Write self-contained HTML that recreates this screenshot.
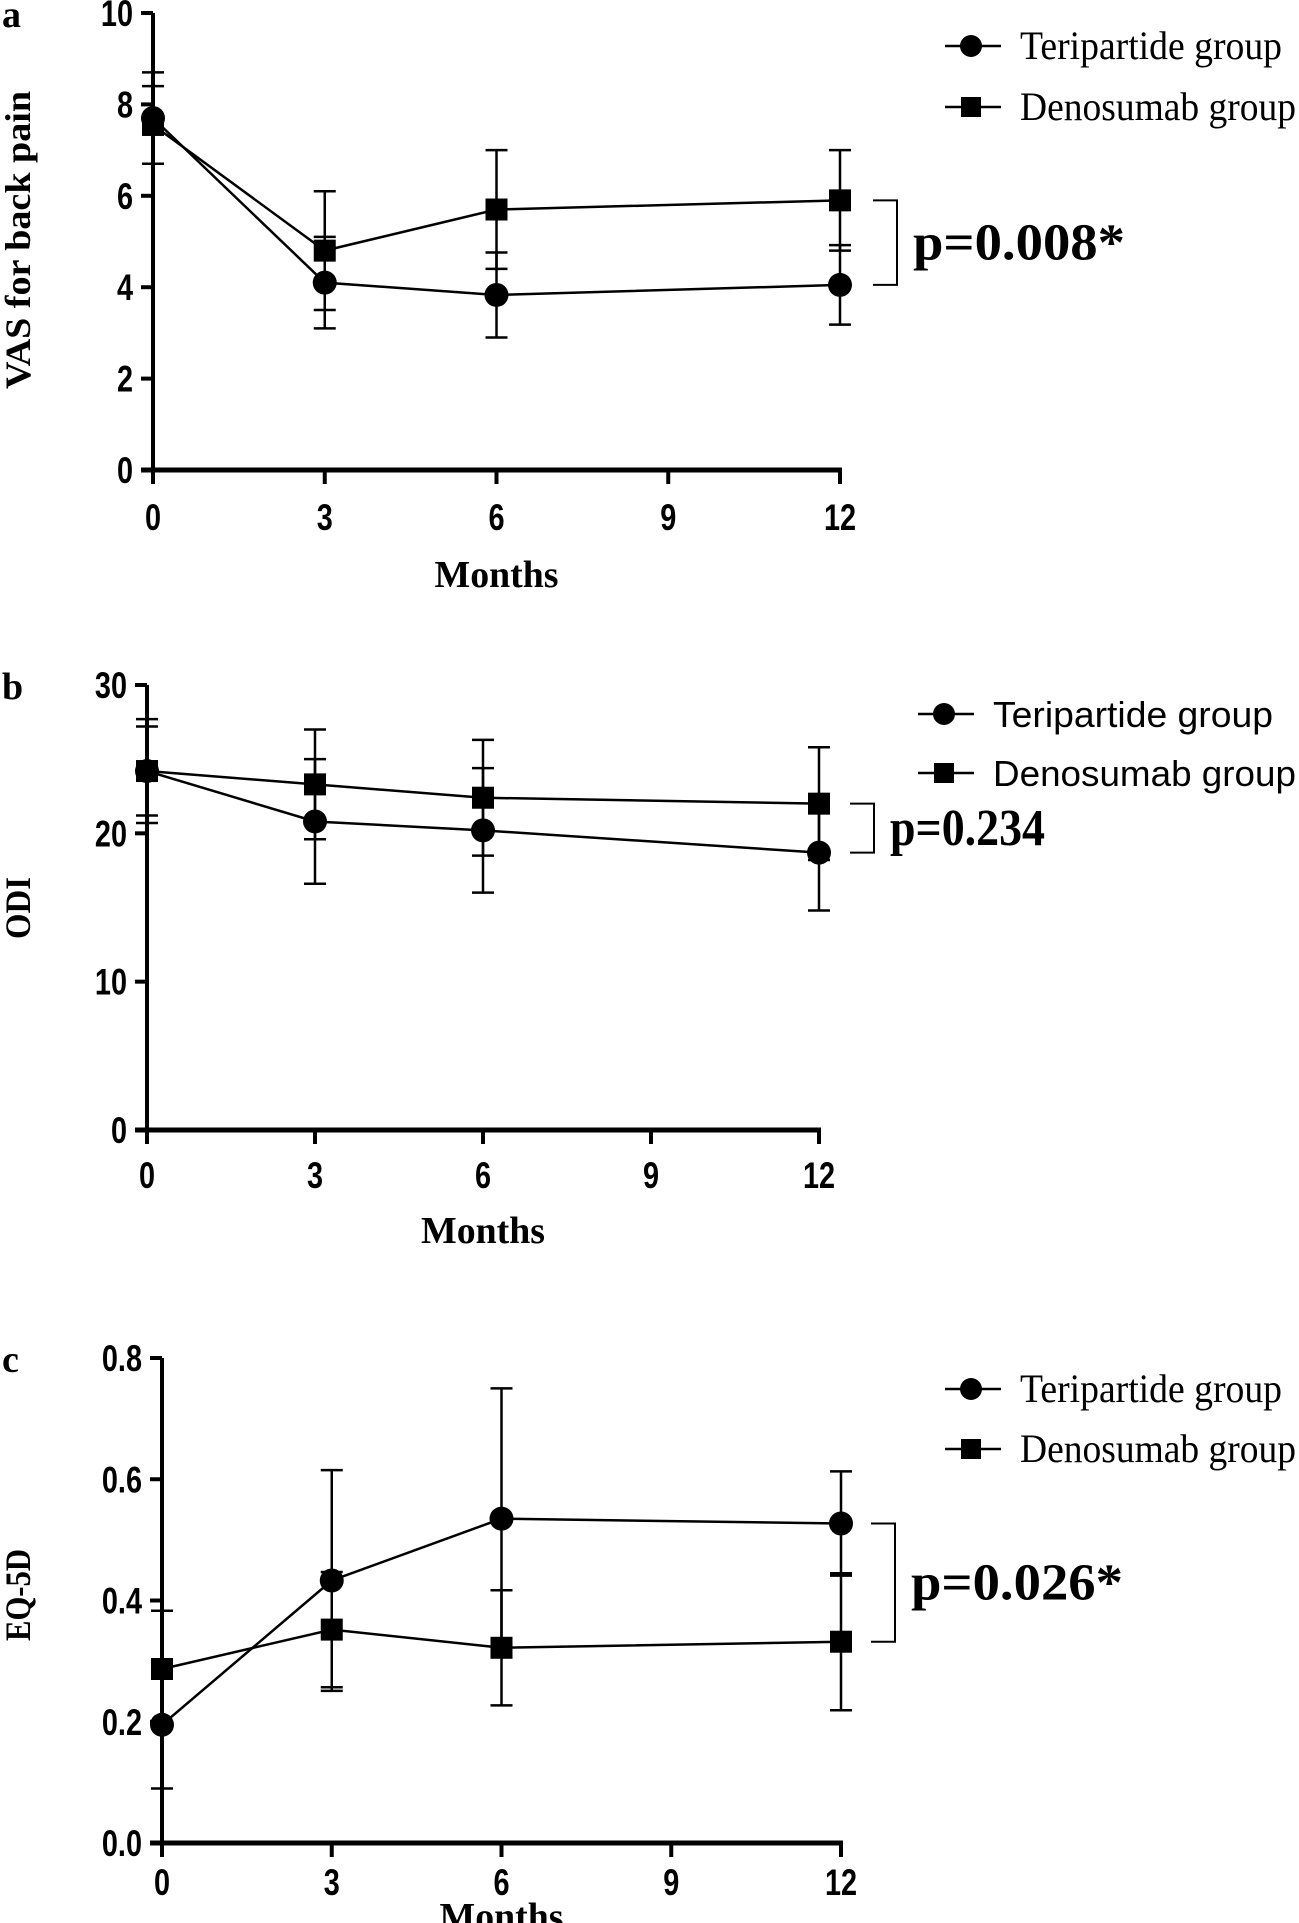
<!DOCTYPE html>
<html><head><meta charset="utf-8"><style>
html,body{margin:0;padding:0;background:#fff;}
svg{display:block;}
.tick{font-family:"Liberation Sans",sans-serif;font-weight:bold;font-size:37px;}
.leg{font-family:"Liberation Serif",serif;font-size:40px;}
.legb{font-family:"Liberation Sans",sans-serif;font-size:36px;}
.pv{font-family:"Liberation Serif",serif;font-weight:bold;font-size:52px;}
.ttl{font-family:"Liberation Serif",serif;font-weight:bold;font-size:36px;}
.lbl{font-family:"Liberation Serif",serif;font-weight:bold;font-size:38px;}
</style></head><body>
<svg id="fig" width="1299" height="1923" viewBox="0 0 1299 1923" xmlns="http://www.w3.org/2000/svg"></svg>
<script>
const months = [0, 3, 6, 12];
const xTicks = [0, 3, 6, 9, 12];
// Panel a: VAS
const vasTeri = [7.7, 4.1, 3.83, 4.05];
const vasTeriSd = [1.0, 1.0, 0.93, 0.87];
const vasDeno = [7.55, 4.8, 5.7, 5.9];
const vasDenoSd = [0.85, 1.3, 1.3, 1.1];
const vasTicks = [0, 2, 4, 6, 8, 10];
const vasP = "p=0.008*";
// Panel b: ODI
const odiTeri = [24.2, 20.8, 20.2, 18.7];
const odiTeriSd = [3.5, 4.2, 4.2, 3.9];
const odiDeno = [24.2, 23.3, 22.4, 22.0];
const odiDenoSd = [3.0, 3.7, 3.9, 3.8];
const odiTicks = [0, 10, 20, 30];
const odiP = "p=0.234";
// Panel c: EQ-5D
const eqTeri = [0.195, 0.433, 0.535, 0.527];
const eqTeriSd = [0.105, 0.182, 0.215, 0.086];
const eqDeno = [0.287, 0.352, 0.322, 0.332];
const eqDenoSd = [0.096, 0.095, 0.095, 0.113];
const eqTicks = [0.0, 0.2, 0.4, 0.6, 0.8];
const eqP = "p=0.026*";

const NS = "http://www.w3.org/2000/svg";
const svg = document.getElementById('fig');
function el(tag, attrs, parent, text){
  const e = document.createElementNS(NS, tag);
  for (const k in attrs) e.setAttribute(k, attrs[k]);
  if (text !== undefined) e.textContent = text;
  (parent || svg).appendChild(e);
  return e;
}

function panel(cfg){
  const g = el('g', {});
  
  
  const xs = v => cfg.x0 + (cfg.x1 - cfg.x0) * v / 12;
  const ys = v => cfg.y0 - (cfg.y0 - cfg.yTop) * v / cfg.yMax;
  const ya = el('line', {x1: cfg.x0, y1: cfg.yTop, x2: cfg.x0, y2: cfg.y0 + 2, stroke: '#000', 'stroke-width': 4}, g);
  
  
  const xa = el('line', {x1: cfg.x0 - 12, y1: cfg.y0, x2: cfg.x1 + 2, y2: cfg.y0, stroke: '#000', 'stroke-width': 5}, g);
  
  
  cfg.ticks.forEach(t => {
    el('line', {x1: cfg.x0 - 12, y1: ys(t), x2: cfg.x0, y2: ys(t), stroke: '#000', 'stroke-width': 4}, g);
    const tl = el('text', {x: 0, y: 0, 'text-anchor': 'end', class: 'tick', transform: `translate(${cfg.x0 - 20},${ys(t) + 13}) scale(0.78,1)`}, g, cfg.fmt(t));
    
    
  });
  xTicks.forEach(t => {
    el('line', {x1: xs(t), y1: cfg.y0, x2: xs(t), y2: cfg.y0 + 14, stroke: '#000', 'stroke-width': 4}, g);
    const tl = el('text', {x: 0, y: 0, 'text-anchor': 'middle', class: 'tick', transform: `translate(${xs(t)},${cfg.y0 + cfg.tickOff}) scale(0.78,1)`}, g, String(t));
    
    
  });
  const series = [
    {vals: cfg.deno, sd: cfg.denoSd, shape: 'square', name: 'denosumab-series'},
    {vals: cfg.teri, sd: cfg.teriSd, shape: 'circle', name: 'teriparatide-series'}
  ];
  series.forEach(s => {
    const sg = el('g', {}, g);
    
    
    const pts = months.map((m, i) => xs(m) + ',' + ys(s.vals[i])).join(' ');
    el('polyline', {points: pts, fill: 'none', stroke: '#000', 'stroke-width': 2.5}, sg);
    months.forEach((m, i) => {
      const x = xs(m), hi = ys(s.vals[i] + s.sd[i]), lo = ys(s.vals[i] - s.sd[i]);
      const eb = el('path', {d: `M${x},${hi}V${lo}M${x-11},${hi}H${x+11}M${x-11},${lo}H${x+11}`, stroke: '#000', 'stroke-width': 2.5, fill: 'none'}, sg);
      
      
      let mk;
      if (s.shape === 'circle') mk = el('circle', {cx: x, cy: ys(s.vals[i]), r: 12, fill: '#000'}, sg);
      else mk = el('rect', {x: x - 11, y: ys(s.vals[i]) - 11, width: 22, height: 22, fill: '#000'}, sg);
      
      
    });
  });
  const lg = el('g', {}, g);
  
  
  [['circle', 'Teripartide group', cfg.legY[0], cfg.legW[0]], ['square', 'Denosumab group', cfg.legY[1], cfg.legW[1]]].forEach(([sh, txt, ly, w]) => {
    const le = el('g', {}, lg);
    
    
    el('line', {x1: cfg.legX, y1: ly, x2: cfg.legX + 56, y2: ly, stroke: '#000', 'stroke-width': 2.5}, le);
    if (sh === 'circle') el('circle', {cx: cfg.legX + 26, cy: ly, r: 11, fill: '#000'}, le);
    else el('rect', {x: cfg.legX + 16, y: ly - 10, width: 20, height: 20, fill: '#000'}, le);
    el('text', {x: cfg.legX + 75, y: ly + 13, class: cfg.legClass, textLength: w, lengthAdjust: 'spacingAndGlyphs'}, le, txt);
  });
  const bx = cfg.x1 + cfg.brOff;
  const yA = ys(cfg.deno[3]), yB = ys(cfg.teri[3]);
  const br = el('path', {d: `M${bx},${yA}H${bx+24}V${yB}H${bx}`, fill: 'none', stroke: '#000', 'stroke-width': 2}, g);
  
  
  const pt = el('text', {x: bx + 40, y: (yA + yB) / 2 + 17, class: 'pv', textLength: cfg.pW, lengthAdjust: 'spacingAndGlyphs'}, g, cfg.p);
  
  
  const yt = el('text', {x: 0, y: 0, 'text-anchor': 'middle', class: 'ttl', textLength: cfg.ytW, lengthAdjust: 'spacingAndGlyphs', transform: `translate(${cfg.ytX},${cfg.ytY}) rotate(-90)`}, g, cfg.yTitle);
  
  
  const xt = el('text', {x: (cfg.x0 + cfg.x1) / 2, y: cfg.y0 + cfg.monOff, 'text-anchor': 'middle', class: 'lbl', textLength: 124, lengthAdjust: 'spacingAndGlyphs'}, g, 'Months');
  
  
  const pl = el('text', {x: 2, y: cfg.yTop + 14, class: 'lbl', 'font-size': 42}, g, cfg.letter);
  
  
}

panel({name: 'panel-a-vas', x0: 153, x1: 840, yTop: 13, y0: 470, yMax: 10, ticks: vasTicks, fmt: t => String(t),
  teri: vasTeri, teriSd: vasTeriSd, deno: vasDeno, denoSd: vasDenoSd, legX: 945, legY: [46, 107], legW: [262, 276], legClass: 'leg',
  brOff: 33, p: vasP, pW: 212, yTitle: 'VAS for back pain', ytW: 298, ytX: 30, ytY: 240, letter: 'a', tickOff: 60, monOff: 117});
panel({name: 'panel-b-odi', x0: 147, x1: 819, yTop: 685, y0: 1130, yMax: 30, ticks: odiTicks, fmt: t => String(t),
  teri: odiTeri, teriSd: odiTeriSd, deno: odiDeno, denoSd: odiDenoSd, legX: 918, legY: [714, 773], legW: [280, 303], legClass: 'legb',
  brOff: 31, p: odiP, pW: 155, yTitle: 'ODI', ytW: 62, ytX: 30, ytY: 908, letter: 'b', tickOff: 58, monOff: 113});
panel({name: 'panel-c-eq5d', x0: 162, x1: 841, yTop: 1358, y0: 1843, yMax: 0.8, ticks: eqTicks, fmt: t => t.toFixed(1),
  teri: eqTeri, teriSd: eqTeriSd, deno: eqDeno, denoSd: eqDenoSd, legX: 945, legY: [1389, 1449], legW: [262, 276], legClass: 'leg',
  brOff: 30, p: eqP, pW: 212, yTitle: 'EQ-5D', ytW: 92, ytX: 30, ytY: 1595, letter: 'c', tickOff: 52, monOff: 86});
</script>
</body></html>
